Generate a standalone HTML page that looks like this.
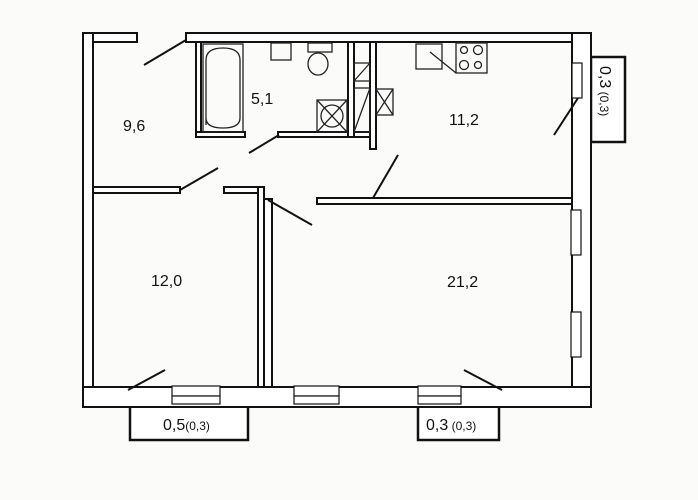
<!DOCTYPE html>
<html><head><style>
body{margin:0;background:#fbfbf9;}
svg{display:block}
text{font-family:"Liberation Sans",sans-serif;fill:#111}
</style></head><body>
<svg width="698" height="500" viewBox="0 0 698 500">
<rect width="698" height="500" fill="#fbfbf9"/>
<g fill="#fff" stroke="#111" stroke-width="2">
<!-- balconies -->
<rect x="130" y="406" width="118" height="34" stroke-width="2.5"/>
<rect x="418" y="406" width="81" height="34" stroke-width="2.5"/>
<rect x="591" y="57" width="34" height="85" stroke-width="2.5"/>
<!-- outer walls -->
<rect x="83" y="33" width="54" height="9"/>
<rect x="83" y="33" width="10" height="374"/>
<rect x="186" y="33" width="405" height="9"/>
<rect x="572" y="33" width="19" height="374"/>
<rect x="83" y="387" width="508" height="20"/>
<!-- interior -->
<rect x="196" y="42" width="5" height="95"/>
<rect x="196" y="132" width="49" height="5"/>
<rect x="278" y="132" width="98" height="5"/>
<rect x="348" y="42" width="6" height="95"/>
<rect x="370" y="42" width="6" height="107"/>
<rect x="93" y="187" width="87" height="6"/>
<rect x="224" y="187" width="40" height="6"/>
<rect x="258" y="187" width="6" height="200"/>
<rect x="264" y="199" width="8" height="188"/>
<rect x="317" y="198" width="255" height="6"/>
</g>
<!-- windows -->
<g fill="#fff" stroke="#111" stroke-width="1.2">
<rect x="172" y="386" width="48" height="10"/><rect x="172" y="396" width="48" height="8"/>
<rect x="294" y="386" width="45" height="10"/><rect x="294" y="396" width="45" height="8"/>
<rect x="418" y="386" width="43" height="10"/><rect x="418" y="396" width="43" height="8"/>
<rect x="571" y="210" width="10" height="45"/><rect x="571" y="312" width="10" height="45"/>
<rect x="572" y="63" width="10" height="35"/>
</g>
<!-- doors -->
<g stroke="#111" stroke-width="2" fill="none">
<line x1="186" y1="40" x2="144" y2="65"/>
<line x1="279" y1="135" x2="249" y2="153"/>
<line x1="180" y1="190" x2="218" y2="168"/>
<line x1="268" y1="200" x2="312" y2="225"/>
<line x1="373" y1="198" x2="398" y2="155"/>
<line x1="578" y1="98" x2="554" y2="135"/>
<line x1="128" y1="390" x2="165" y2="370"/>
<line x1="502" y1="390" x2="464" y2="370"/>
</g>
<!-- fixtures -->
<g fill="none" stroke="#222" stroke-width="1.3">
<rect x="203" y="44" width="40" height="88"/>
<path d="M206 125 L206 60 Q206 48 223 48 Q240 48 240 60 L240 118 Q240 128 223 128 Q206 128 206 118Z"/>
<rect x="271" y="43" width="20" height="17"/>
<rect x="308" y="43" width="24" height="9"/>
<ellipse cx="318" cy="64" rx="10" ry="11"/>
<rect x="317" y="100" width="30" height="32"/>
<circle cx="332" cy="116" r="11"/><line x1="317" y1="100" x2="347" y2="132"/><line x1="347" y1="100" x2="317" y2="132"/>
<rect x="354" y="63" width="16" height="18"/><line x1="354" y1="81" x2="370" y2="63"/>
<rect x="354" y="88" width="16" height="44"/><line x1="354" y1="132" x2="370" y2="88"/>
<rect x="376" y="89" width="17" height="26"/><line x1="376" y1="89" x2="393" y2="115"/><line x1="393" y1="89" x2="376" y2="115"/>
<rect x="416" y="44" width="26" height="25"/>
<rect x="456" y="43" width="31" height="30"/>
<circle cx="464" cy="50" r="3.5"/><circle cx="478" cy="50" r="4.5"/><circle cx="464" cy="65" r="4.5"/><circle cx="478" cy="65" r="3.5"/>
<line x1="430" y1="52" x2="456" y2="73"/>
</g>
<!-- labels -->
<text x="123" y="131" font-size="16">9,6</text>
<text x="251" y="104" font-size="16">5,1</text>
<text x="449" y="125" font-size="16">11,2</text>
<text x="151" y="286" font-size="16">12,0</text>
<text x="447" y="287" font-size="16">21,2</text>
<text x="163" y="430" font-size="16">0,5<tspan font-size="12">(0,3)</tspan></text>
<text x="426" y="430" font-size="16">0,3<tspan font-size="12"> (0,3)</tspan></text>
<text transform="translate(600,66) rotate(90)" font-size="16">0,3<tspan font-size="12"> (0,3)</tspan></text>
</svg>
</body></html>
